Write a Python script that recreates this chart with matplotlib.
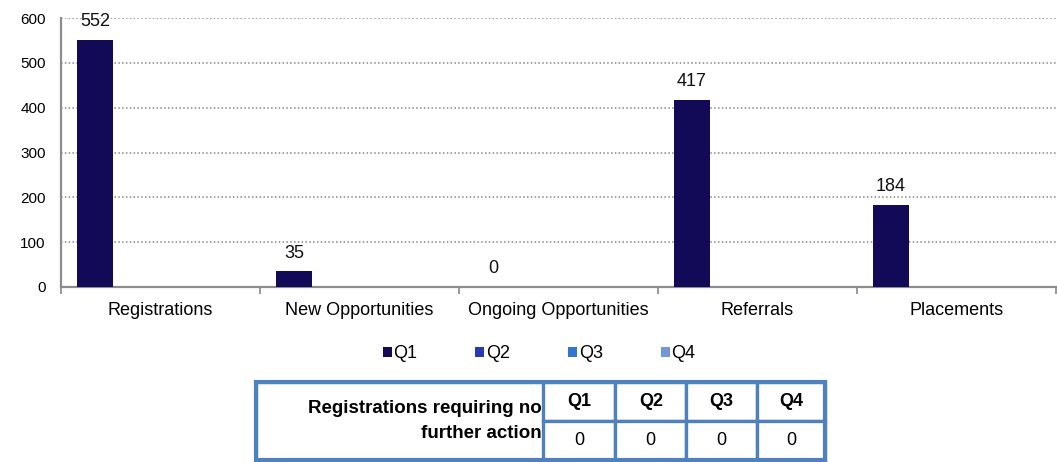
import numpy as np
import matplotlib
matplotlib.use("Agg")
import matplotlib.pyplot as plt

plt.rcParams['font.family'] = ['Liberation Sans', 'DejaVu Sans']

categories = ["Registrations", "New Opportunities", "Ongoing Opportunities", "Referrals", "Placements"]
quarters = ["Q1", "Q2", "Q3", "Q4"]
q1 = [552, 35, 0, 417, 184]
q2 = [np.nan] * 5
q3 = [np.nan] * 5
q4 = [np.nan] * 5
series = [q1, q2, q3, q4]
colors = ["#120a56", "#2c37b4", "#3276d1", "#7296d8"]

table_label = "Registrations requiring no\nfurther action"
table_values = [0, 0, 0, 0]

W, H = 1057, 462
fig = plt.figure(figsize=(W / 100, H / 100), dpi=100)
ax = fig.add_axes([61 / W, 1 - 287 / H, 995 / W, 269 / H])

x = np.arange(len(categories))
width = 0.181
first = -0.329
bars = []
for i, (vals, c) in enumerate(zip(series, colors)):
    b = ax.bar(x + first + i * width, vals, width, color=c, label=quarters[i], zorder=3)
    bars.append(b)

for xi, v in zip(x + first, q1):
    ax.annotate(str(v), (xi, v), xytext=(0, 7), textcoords="offset points",
                ha="center", va="bottom", fontsize=13, color="#111111")

ax.set_xlim(-0.5, len(categories) - 0.5)
ax.set_ylim(0, 600)
ax.set_yticks(range(0, 601, 100))
ax.set_xticks(x)
ax.set_xticklabels(categories, fontsize=13)
ax.set_xticks(np.arange(-0.5, len(categories), 1), minor=True)
ax.tick_params(axis="x", which="major", length=0, pad=11)
ax.tick_params(axis="x", which="minor", length=5, width=1.2, color="#888888")
ax.tick_params(axis="y", length=0, pad=11, labelsize=11)
ax.yaxis.grid(True, linestyle=(0, (1, 1.5)), color="#888888", linewidth=1.1, zorder=0)
for s in ["top", "right"]:
    ax.spines[s].set_visible(False)
for s in ["left", "bottom"]:
    ax.spines[s].set_color("#8c8c8c")
    ax.spines[s].set_linewidth(1.6)

fig.legend(handles=bars, labels=quarters, loc="center", ncol=4,
           bbox_to_anchor=(0.510, 1 - 354 / H), frameon=False, fontsize=13,
           handlelength=0.5, handleheight=0.5, handletextpad=0.1, columnspacing=3.2)

# table under the legend
tx0, tx1, ty0, ty1 = 256, 825, 382, 460
tax = fig.add_axes([tx0 / W, 1 - ty1 / H, (tx1 - tx0) / W, (ty1 - ty0) / H])
tax.axis("off")
col_px = [288, 72, 71, 71, 68]
col_w = [c / sum(col_px) for c in col_px]
cell_text = [[""] + quarters, [""] + [str(v) for v in table_values]]
tbl = tax.table(cellText=cell_text, colWidths=col_w, bbox=[0, 0, 1, 1], cellLoc="center")
tbl.auto_set_font_size(False)
border = "#4f81bd"
for (r, c), cell in tbl.get_celld().items():
    cell.set_edgecolor(border)
    cell.set_linewidth(2.4)
    cell.get_text().set_fontsize(13)
    if r == 0:
        cell.get_text().set_fontweight("bold")
    if c == 0:
        cell.visible_edges = "LT" if r == 0 else "LB"
tax.add_patch(plt.Rectangle((0, 0), 1, 1, transform=tax.transAxes, fill=False,
                            edgecolor=border, linewidth=3.0, clip_on=False, zorder=5))
tax.text(col_w[0] - 0.003, 0.50, table_label, transform=tax.transAxes, ha="right",
         va="center", multialignment="right", fontsize=13.5, fontweight="bold",
         linespacing=1.55)

fig.savefig("out.png", dpi=100)
